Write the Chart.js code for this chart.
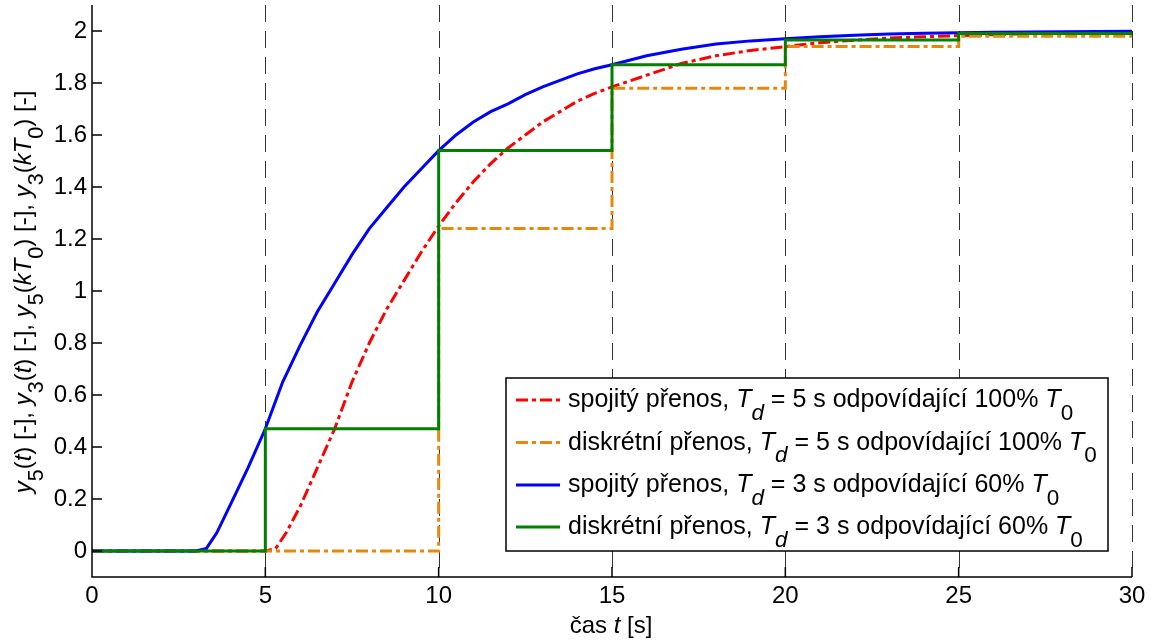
<!DOCTYPE html>
<html>
<head>
<meta charset="utf-8">
<script src="https://cdn.jsdelivr.net/npm/chart.js@4.4.0/dist/chart.umd.min.js"></script>
<style>
  body { margin: 0; background: #fff; }
  canvas { display: block; }
</style>
</head>
<body>
<canvas id="stepChart" width="1152" height="641"></canvas>
<script>
// continuous response, Td = 5 s (red)
const tSpojity5 = [0, 5, 5.3, 5.6, 6, 6.5, 7, 7.5, 8, 8.5, 9, 9.5, 10, 10.5, 11, 11.5, 12, 12.5, 13, 13.5, 14, 14.5, 15, 16, 17, 18, 19, 20, 21, 22, 23, 24, 25, 26, 27, 28, 29, 30];
const ySpojity5 = [0, 0, 0.01, 0.07, 0.17, 0.32, 0.47, 0.65, 0.80, 0.93, 1.04, 1.15, 1.25, 1.34, 1.42, 1.49, 1.55, 1.60, 1.65, 1.69, 1.73, 1.76, 1.785, 1.83, 1.875, 1.905, 1.925, 1.94, 1.955, 1.965, 1.973, 1.978, 1.982, 1.986, 1.99, 1.992, 1.994, 1.996];

// continuous response, Td = 3 s (blue)
const tSpojity3 = [0, 3, 3.3, 3.6, 4, 4.5, 5, 5.5, 6, 6.5, 7, 7.5, 8, 8.5, 9, 9.5, 10, 10.5, 11, 11.5, 12, 12.5, 13, 13.5, 14, 14.5, 15, 16, 17, 18, 19, 20, 21, 22, 23, 24, 25, 26, 27, 28, 29, 30];
const ySpojity3 = [0, 0, 0.01, 0.07, 0.18, 0.32, 0.47, 0.65, 0.79, 0.92, 1.03, 1.14, 1.24, 1.32, 1.40, 1.47, 1.54, 1.60, 1.65, 1.69, 1.72, 1.755, 1.785, 1.81, 1.835, 1.855, 1.87, 1.905, 1.93, 1.95, 1.962, 1.97, 1.978, 1.984, 1.988, 1.991, 1.993, 1.995, 1.996, 1.997, 1.998, 1.999];

// sampled responses, T0 = 5 s
const tDiskretni = [0, 5, 10, 15, 20, 25, 30];
const yDiskretni5 = [0, 0, 1.24, 1.78, 1.94, 1.98, 1.99];
const yDiskretni3 = [0, 0.47, 1.54, 1.87, 1.965, 1.99, 1.997];

const xTicks = [0, 5, 10, 15, 20, 25, 30];
const yTicks = [0, 0.2, 0.4, 0.6, 0.8, 1, 1.2, 1.4, 1.6, 1.8, 2];
const xGrid = [5, 10, 15, 20, 25, 30];

const FONT = '"Liberation Sans", Arial, sans-serif';
const FS = 24;
const LEGEND_FS = 25;

const RED = '#ff0000', ORANGE = '#e8870e', BLUE = '#0000ff', GREEN = '#008000';
const DASHDOT = [12, 4, 4, 4];

// legend rows: [text, style]  style: i = italic, s = subscript
const legendRows = [
  [['spojitý přenos, ', ''], ['T', 'i'], ['d', 'is'], [' = 5 s odpovídající 100% ', ''], ['T', 'i'], ['0', 's']],
  [['diskrétní přenos, ', ''], ['T', 'i'], ['d', 'is'], [' = 5 s odpovídající 100% ', ''], ['T', 'i'], ['0', 's']],
  [['spojitý přenos, ', ''], ['T', 'i'], ['d', 'is'], [' = 3 s odpovídající 60% ', ''], ['T', 'i'], ['0', 's']],
  [['diskrétní přenos, ', ''], ['T', 'i'], ['d', 'is'], [' = 3 s odpovídající 60% ', ''], ['T', 'i'], ['0', 's']]
];
const yTitle = [
  ['y', 'i'], ['5', 's'], ['(', ''], ['t', 'i'], [') [-], ', ''],
  ['y', 'i'], ['3', 's'], ['(', ''], ['t', 'i'], [') [-], ', ''],
  ['y', 'i'], ['5', 's'], ['(', ''], ['kT', 'i'], ['0', 's'], [') [-], ', ''],
  ['y', 'i'], ['3', 's'], ['(', ''], ['kT', 'i'], ['0', 's'], [') [-]', '']
];
const xTitle = [['čas ', ''], ['t', 'i'], [' [s]', '']];

function fontFor(style, fs) {
  const size = style.includes('s') ? fs * 0.9 : fs;
  return (style.includes('i') ? 'italic ' : '') + size + 'px ' + FONT;
}

function richWidth(ctx, parts, fs) {
  let w = 0;
  parts.forEach(([t, st]) => { ctx.font = fontFor(st, fs); w += ctx.measureText(t).width; });
  return w;
}

function drawRich(ctx, parts, x, y, center, fs) {
  let cx = center ? x - richWidth(ctx, parts, fs) / 2 : x;
  ctx.textAlign = 'left';
  ctx.textBaseline = 'alphabetic';
  parts.forEach(([t, st]) => {
    ctx.font = fontFor(st, fs);
    ctx.fillText(t, cx, y + (st.includes('s') ? fs * 0.5 : 0));
    cx += ctx.measureText(t).width;
  });
}

function series(label, xs, ys, color, dash, order, stepped) {
  return {
    label: label,
    data: xs.map((x, i) => ({ x: x, y: ys[i] })),
    borderColor: color,
    borderWidth: 3,
    borderDash: dash,
    pointRadius: 0,
    fill: false,
    stepped: stepped,
    order: order
  };
}

const frame = {
  id: 'frame',
  beforeDatasetsDraw(chart) {
    const { ctx, chartArea: a, scales: { x } } = chart;
    ctx.save();
    ctx.strokeStyle = '#333';
    ctx.lineWidth = 1;
    ctx.setLineDash([17, 9]);
    xGrid.forEach(v => {
      const px = Math.round(x.getPixelForValue(v)) + 0.5;
      ctx.beginPath();
      ctx.moveTo(px, a.top);
      ctx.lineTo(px, a.bottom);
      ctx.stroke();
    });
    ctx.restore();
  },
  afterDatasetsDraw(chart) {
    const { ctx, chartArea: a, scales: { x, y } } = chart;
    ctx.save();

    // axes with inward ticks
    ctx.strokeStyle = '#000';
    ctx.lineWidth = 1.5;
    ctx.beginPath();
    ctx.moveTo(a.left, a.top);
    ctx.lineTo(a.left, a.bottom);
    ctx.lineTo(a.right, a.bottom);
    yTicks.forEach(v => {
      const py = y.getPixelForValue(v);
      ctx.moveTo(a.left, py);
      ctx.lineTo(a.left + 10, py);
    });
    xTicks.forEach(v => {
      const px = x.getPixelForValue(v);
      ctx.moveTo(px, a.bottom);
      ctx.lineTo(px, a.bottom - 10);
    });
    ctx.stroke();

    // legend
    const box = { l: 506, t: 378, r: 1108, b: 551 };
    ctx.fillStyle = '#fff';
    ctx.fillRect(box.l, box.t, box.r - box.l, box.b - box.t);
    ctx.lineWidth = 1.5;
    ctx.strokeRect(box.l, box.t, box.r - box.l, box.b - box.t);
    const rowY = [400, 442.5, 485, 527];
    const sets = chart.data.datasets;
    legendRows.forEach((parts, i) => {
      const ds = sets[i];
      ctx.strokeStyle = ds.borderColor;
      ctx.lineWidth = 3;
      ctx.setLineDash(ds.borderDash || []);
      ctx.beginPath();
      ctx.moveTo(516, rowY[i]);
      ctx.lineTo(560, rowY[i]);
      ctx.stroke();
      ctx.setLineDash([]);
      ctx.fillStyle = '#000';
      drawRich(ctx, parts, 568, rowY[i] + 7, false, LEGEND_FS);
    });

    // axis titles
    ctx.fillStyle = '#000';
    drawRich(ctx, xTitle, 611, 633, true, FS);
    ctx.translate(31, 292);
    ctx.rotate(-Math.PI / 2);
    drawRich(ctx, yTitle, 0, 0, true, FS);
    ctx.restore();
  }
};

const tickFont = { family: FONT, size: FS };

new Chart(document.getElementById('stepChart'), {
  type: 'line',
  data: {
    datasets: [
      series('spojitý přenos, Td = 5 s odpovídající 100% T0', tSpojity5, ySpojity5, RED, DASHDOT, 4, false),
      series('diskrétní přenos, Td = 5 s odpovídající 100% T0', tDiskretni, yDiskretni5, ORANGE, DASHDOT, 3, 'before'),
      series('spojitý přenos, Td = 3 s odpovídající 60% T0', tSpojity3, ySpojity3, BLUE, [], 2, false),
      series('diskrétní přenos, Td = 3 s odpovídající 60% T0', tDiskretni, yDiskretni3, GREEN, [], 1, 'before')
    ]
  },
  options: {
    responsive: false,
    animation: false,
    layout: { padding: { top: 5, right: 20, left: 0, bottom: 0 } },
    plugins: {
      legend: { display: false },
      tooltip: { enabled: false }
    },
    scales: {
      x: {
        type: 'linear',
        min: 0,
        max: 30,
        afterBuildTicks: s => { s.ticks = xTicks.map(v => ({ value: v })); },
        afterFit: s => { s.height = 64; s.paddingLeft = 0; s.paddingRight = 0; },
        grid: { display: false, drawTicks: false },
        border: { display: false },
        ticks: {
          color: '#000',
          font: tickFont,
          padding: 5,
          maxRotation: 0,
          autoSkip: false,
          callback: v => String(v)
        }
      },
      y: {
        type: 'linear',
        min: -0.1,
        max: 2.1,
        afterBuildTicks: s => { s.ticks = yTicks.map(v => ({ value: v })); },
        afterFit: s => { s.width = 92; s.paddingTop = 0; s.paddingBottom = 0; },
        grid: { display: false, drawTicks: false },
        border: { display: false },
        ticks: {
          color: '#000',
          font: tickFont,
          padding: 5,
          autoSkip: false,
          callback: v => String(Math.round(v * 10) / 10)
        }
      }
    }
  },
  plugins: [frame]
});
</script>
</body>
</html>
